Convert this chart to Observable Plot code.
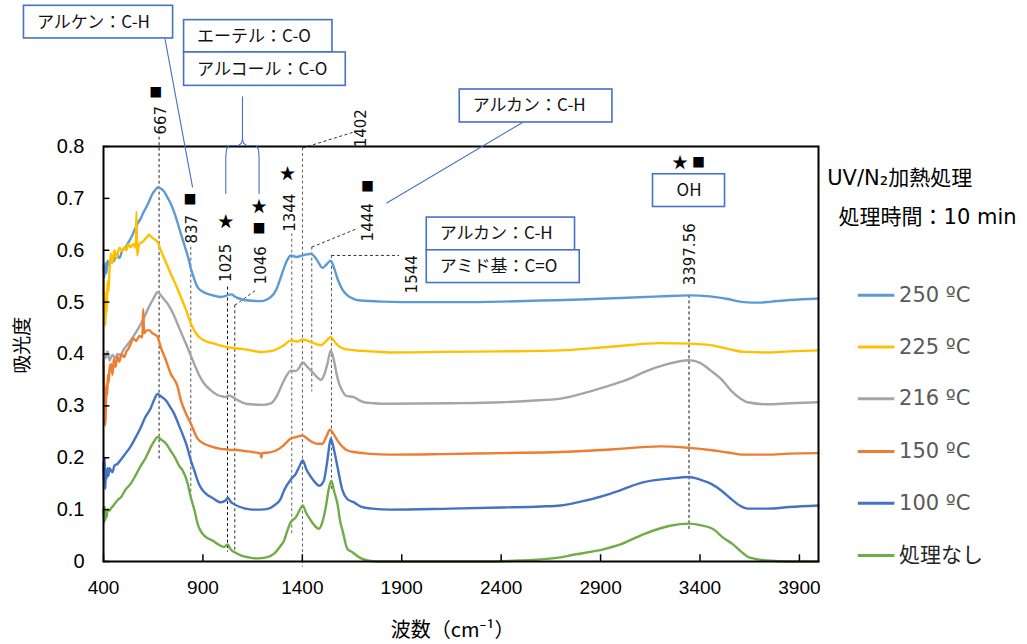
<!DOCTYPE html>
<html><head><meta charset="utf-8">
<script src="https://cdn.jsdelivr.net/npm/d3@7"></script>
<script src="https://cdn.jsdelivr.net/npm/@observablehq/plot@0.6"></script>
<style>html,body{margin:0;padding:0;background:#fff}#chart svg{display:block}</style>
</head><body><div id="chart"></div>
<script>
// ---------- data ----------
const seriesNames = ["250 ºC", "225 ºC", "216 ºC", "150 ºC", "100 ºC", "処理なし"];
const seriesColors = ["#5B9BD5", "#FFC000", "#A5A5A5", "#ED7D31", "#4472C4", "#70AD47"];

const spec250 = [[400,0.570],[405,0.548],[410,0.575],[415,0.556],[420,0.580],[430,0.570],[440,0.585],[450,0.578],[465,0.592],[480,0.585],[495,0.600],[510,0.605],[525,0.615],[540,0.625],[555,0.638],[570,0.650],[585,0.660],[600,0.672],[615,0.683],[630,0.695],[645,0.708],[660,0.716],[672,0.721],[688,0.719],[705,0.713],[720,0.703],[738,0.690],[760,0.668],[789,0.632],[815,0.600],[830,0.580],[839,0.565],[850,0.552],[873,0.529],[900,0.520],[940,0.514],[990,0.510],[1015,0.512],[1025,0.514],[1045,0.515],[1060,0.511],[1090,0.506],[1130,0.503],[1191,0.502],[1242,0.510],[1270,0.525],[1292,0.548],[1320,0.578],[1342,0.590],[1370,0.587],[1401,0.590],[1425,0.592],[1443,0.593],[1465,0.586],[1485,0.574],[1501,0.566],[1520,0.572],[1543,0.580],[1560,0.565],[1577,0.545],[1600,0.525],[1627,0.513],[1660,0.506],[1694,0.503],[1800,0.501],[2000,0.500],[2200,0.500],[2400,0.501],[2600,0.503],[2800,0.505],[3000,0.508],[3200,0.511],[3345,0.513],[3450,0.511],[3540,0.506],[3620,0.500],[3700,0.499],[3760,0.501],[3850,0.504],[3996,0.507]];

const spec225 = [[400,0.545],[403,0.470],[406,0.520],[409,0.455],[412,0.500],[416,0.480],[420,0.540],[425,0.520],[430,0.560],[437,0.594],[445,0.575],[455,0.600],[465,0.585],[480,0.605],[495,0.598],[504,0.606],[515,0.600],[525,0.612],[537,0.606],[550,0.612],[562,0.605],[566,0.674],[569,0.590],[580,0.612],[592,0.615],[604,0.619],[615,0.624],[629,0.630],[640,0.626],[646,0.624],[660,0.620],[672,0.616],[688,0.600],[710,0.580],[738,0.555],[765,0.532],[789,0.510],[815,0.485],[839,0.459],[865,0.440],[889,0.430],[920,0.424],[956,0.420],[990,0.416],[1024,0.413],[1060,0.411],[1090,0.410],[1140,0.407],[1191,0.404],[1230,0.405],[1258,0.407],[1285,0.412],[1308,0.417],[1342,0.426],[1376,0.424],[1402,0.428],[1443,0.423],[1470,0.419],[1493,0.417],[1520,0.425],[1543,0.433],[1560,0.425],[1577,0.417],[1610,0.410],[1644,0.408],[1750,0.405],[1845,0.403],[2100,0.404],[2400,0.405],[2700,0.407],[2950,0.414],[3202,0.421],[3345,0.420],[3450,0.417],[3540,0.410],[3621,0.404],[3739,0.403],[3850,0.405],[3996,0.407]];

const spec216 = [[400,0.400],[410,0.392],[420,0.405],[430,0.388],[445,0.398],[460,0.392],[470,0.400],[485,0.398],[500,0.408],[520,0.418],[537,0.426],[560,0.440],[588,0.458],[610,0.475],[629,0.491],[650,0.506],[672,0.519],[695,0.510],[722,0.497],[750,0.478],[772,0.458],[800,0.433],[822,0.413],[856,0.381],[880,0.360],[906,0.343],[940,0.330],[973,0.321],[1000,0.318],[1015,0.317],[1030,0.320],[1040,0.319],[1074,0.311],[1110,0.305],[1141,0.303],[1200,0.302],[1242,0.305],[1270,0.318],[1292,0.336],[1320,0.358],[1342,0.368],[1367,0.367],[1385,0.374],[1401,0.384],[1425,0.375],[1451,0.365],[1475,0.355],[1493,0.350],[1510,0.360],[1526,0.381],[1543,0.407],[1559,0.388],[1572,0.362],[1585,0.343],[1600,0.330],[1618,0.320],[1640,0.318],[1660,0.317],[1685,0.311],[1710,0.307],[1760,0.305],[1828,0.304],[2146,0.305],[2400,0.307],[2550,0.310],[2699,0.314],[2830,0.326],[2951,0.340],[3050,0.353],[3118,0.365],[3230,0.380],[3345,0.388],[3400,0.383],[3454,0.368],[3510,0.350],[3555,0.330],[3600,0.315],[3639,0.307],[3739,0.303],[3850,0.305],[3996,0.307]];

const spec150 = [[400,0.390],[403,0.330],[406,0.280],[409,0.262],[412,0.300],[415,0.340],[418,0.320],[422,0.360],[426,0.345],[430,0.370],[437,0.381],[445,0.360],[452,0.390],[460,0.375],[470,0.395],[480,0.385],[490,0.400],[504,0.394],[515,0.405],[525,0.410],[537,0.420],[550,0.430],[565,0.425],[580,0.435],[595,0.432],[600,0.487],[604,0.440],[615,0.445],[629,0.446],[646,0.440],[660,0.437],[672,0.433],[688,0.413],[710,0.392],[738,0.362],[772,0.338],[789,0.311],[815,0.285],[839,0.266],[873,0.237],[906,0.227],[940,0.222],[990,0.217],[1025,0.216],[1040,0.215],[1074,0.215],[1110,0.213],[1150,0.211],[1190,0.208],[1194,0.200],[1198,0.209],[1230,0.210],[1267,0.214],[1300,0.222],[1342,0.237],[1370,0.240],[1401,0.243],[1420,0.238],[1451,0.230],[1475,0.227],[1501,0.227],[1520,0.240],[1539,0.254],[1555,0.247],[1577,0.233],[1600,0.222],[1627,0.214],[1660,0.211],[1727,0.208],[1845,0.206],[2100,0.207],[2400,0.209],[2699,0.211],[2950,0.216],[3202,0.222],[3345,0.219],[3450,0.215],[3540,0.210],[3621,0.206],[3739,0.206],[3850,0.208],[3996,0.209]];

const spec100 = [[400,0.190],[403,0.150],[406,0.200],[409,0.140],[412,0.175],[416,0.160],[420,0.180],[425,0.165],[430,0.180],[437,0.176],[445,0.172],[455,0.185],[470,0.188],[485,0.195],[504,0.205],[520,0.213],[537,0.222],[560,0.238],[588,0.259],[610,0.278],[637,0.295],[655,0.312],[672,0.323],[690,0.318],[713,0.311],[740,0.295],[755,0.285],[780,0.262],[797,0.246],[820,0.222],[839,0.195],[860,0.172],[873,0.156],[890,0.142],[915,0.131],[950,0.122],[990,0.114],[1015,0.118],[1025,0.123],[1040,0.115],[1050,0.112],[1080,0.106],[1115,0.102],[1150,0.100],[1191,0.100],[1230,0.102],[1258,0.108],[1290,0.120],[1308,0.137],[1342,0.158],[1367,0.169],[1385,0.183],[1402,0.195],[1420,0.178],[1443,0.163],[1470,0.150],[1484,0.146],[1500,0.150],[1510,0.158],[1526,0.195],[1543,0.237],[1560,0.214],[1577,0.182],[1602,0.137],[1627,0.120],[1660,0.114],[1694,0.106],[1750,0.102],[1845,0.100],[2146,0.102],[2400,0.104],[2600,0.106],[2699,0.108],[2830,0.118],[2951,0.131],[3118,0.153],[3250,0.160],[3345,0.163],[3400,0.158],[3454,0.150],[3510,0.136],[3555,0.121],[3600,0.108],[3639,0.102],[3739,0.102],[3850,0.105],[3996,0.108]];

const spec0 = [[400,0.100],[403,0.075],[406,0.105],[409,0.080],[412,0.095],[416,0.085],[420,0.100],[430,0.098],[437,0.102],[450,0.108],[470,0.118],[490,0.125],[510,0.138],[537,0.150],[560,0.165],[588,0.185],[610,0.198],[637,0.220],[655,0.232],[672,0.240],[690,0.235],[713,0.228],[740,0.212],[760,0.200],[780,0.185],[797,0.176],[820,0.155],[839,0.124],[860,0.095],[873,0.073],[890,0.058],[915,0.047],[950,0.040],[973,0.034],[1006,0.028],[1020,0.032],[1025,0.033],[1040,0.023],[1060,0.018],[1090,0.012],[1130,0.008],[1174,0.006],[1220,0.008],[1258,0.015],[1290,0.030],[1308,0.040],[1325,0.060],[1342,0.076],[1367,0.085],[1385,0.098],[1402,0.108],[1420,0.093],[1443,0.079],[1470,0.066],[1484,0.063],[1500,0.075],[1518,0.105],[1533,0.140],[1546,0.156],[1560,0.135],[1577,0.111],[1590,0.078],[1602,0.060],[1627,0.024],[1652,0.018],[1686,0.008],[1728,0.002],[1780,0.000],[2000,0.000],[2300,0.000],[2500,0.002],[2699,0.008],[2750,0.012],[2918,0.024],[3000,0.033],[3118,0.053],[3250,0.069],[3345,0.073],[3400,0.070],[3463,0.063],[3520,0.045],[3563,0.034],[3620,0.015],[3646,0.008],[3739,0.002],[3850,0.000],[3996,0.000]];

const spectra = [spec250, spec225, spec216, spec150, spec100, spec0];

const xTicks = [400, 900, 1400, 1900, 2400, 2900, 3400, 3900];
const yTicks = [0, 0.1, 0.2, 0.3, 0.4, 0.5, 0.6, 0.7, 0.8];
const xTitle = "波数（cm⁻¹）";
const yTitle = "吸光度";
const titleLines = ["UV/N₂加熱処理", "処理時間：10 min"];
const peakLabels = ["667", "837", "1025", "1046", "1344", "1402", "1444", "1544", "3397.56"];
const groupLabels = ["アルケン：C-H", "エーテル：C-O", "アルコール：C-O", "アルカン：C-H", "アルカン：C-H", "アミド基：C=O"];
const ohLabel = "OH";

// ---------- annotation layout (data units) ----------
const peakLineLayout = [
  {x: 679.6, y1: 0.818, y2: 0.195, c: "#222"},
  {x: 839.0, y1: 0.606, y2: 0.127, c: "#555"},
  {x: 1023.6, y1: 0.529, y2: 0.018, c: "#111"},
  {x: 1060.3, y1: 0.494, y2: 0.018, c: "#333"},
  {x: 1346.9, y1: 0.632, y2: 0.053, c: "#666"},
  {x: 1400.7, y1: 0.797, y2: -0.011, c: "#666"},
  {x: 1447.5, y1: 0.606, y2: 0.327, c: "#555"},
  {x: 1546.5, y1: 0.590, y2: 0.134, c: "#555"},
  {x: 3344.8, y1: 0.513, y2: 0.057, c: "#111"}
];
const peakLeaderLayout = [
  {x1: 1060.3, y1: 0.494, x2: 1165.9, y2: 0.523},
  {x1: 1400.7, y1: 0.797, x2: 1660.2, y2: 0.828},
  {x1: 1447.5, y1: 0.606, x2: 1677.3, y2: 0.642},
  {x1: 1546.5, y1: 0.590, x2: 1886.5, y2: 0.590}
];
const peakLabelLayout = [
  {x: 688.1, y: 0.8507}, {x: 844.0, y: 0.6404}, {x: 1019.0, y: 0.5758},
  {x: 1191.0, y: 0.5710}, {x: 1336.9, y: 0.6723}, {x: 1696.4, y: 0.8353},
  {x: 1731.6, y: 0.6539}, {x: 1950.4, y: 0.5536}, {x: 3348.3, y: 0.5922}
];
const squareLayout = [
  {x: 663.0, y: 0.9028}, {x: 835.5, y: 0.6964}, {x: 1182.5, y: 0.6404},
  {x: 1727.6, y: 0.7220}, {x: 3392.1, y: 0.7683}
];
const starLayout = [
  {x: 1015.0, y: 0.6545}, {x: 1182.5, y: 0.6835}, {x: 1325.3, y: 0.7479}, {x: 3299.5, y: 0.7683}
];
const boxLayout = [
  {x1: 0, x2: 750, y1: 1.0083, y2: 1.0712},
  {x1: 805.3, x2: 1551.6, y1: 0.9813, y2: 1.0436},
  {x1: 805.3, x2: 1618.4, y1: 0.9169, y2: 0.9813},
  {x1: 2191.7, x2: 2959.6, y1: 0.8463, y2: 0.9099},
  {x1: 2025.8, x2: 2771.5, y1: 0.5999, y2: 0.6630},
  {x1: 2025.8, x2: 2795.2, y1: 0.5368, y2: 0.5999}
];
const ohBox = {x1: 3163.8, x2: 3525.9, y1: 0.6834, y2: 0.7465};
const connectorLayout = [
  {id: "alkene", x: 709.8, y: 1.0064}, {id: "alkene", x: 847.6, y: 0.7220},
  {id: "alkane", x: 2507.0, y: 0.8463}, {id: "alkane", x: 1824.6, y: 0.6912},
  {id: "braceL", x: 1015.0, y: 0.7093}, {id: "braceL", x: 1015.0, y: 0.7800}, {id: "braceL", x: 1019.0, y: 0.7950},
  {id: "braceL", x: 1032.0, y: 0.8020}, {id: "braceL", x: 1080.0, y: 0.8025}, {id: "braceL", x: 1094.0, y: 0.8065},
  {id: "braceL", x: 1099.0, y: 0.8140}, {id: "braceL", x: 1099.0, y: 0.8957},
  {id: "braceR", x: 1099.0, y: 0.8140}, {id: "braceR", x: 1104.0, y: 0.8065}, {id: "braceR", x: 1118.0, y: 0.8025},
  {id: "braceR", x: 1166.0, y: 0.8020}, {id: "braceR", x: 1179.0, y: 0.7950}, {id: "braceR", x: 1182.5, y: 0.7800},
  {id: "braceR", x: 1182.5, y: 0.7093}
];
const legendLayout = {x1: 4196, x2: 4380, xt: 4401, ys: [0.5131, 0.4135, 0.3139, 0.2122, 0.1125, 0.0116]};
const titleLayout = [{x: 4040, y: 0.7388}, {x: 4097, y: 0.6642}];
const yTitleLayout = {x: -7, y: 0.4167};
const xTitleLayout = {x: 2156, y: -0.1331};

// ---------- build ----------
const CJK = "'Noto Sans CJK JP', 'Noto Sans', sans-serif";
const VERD = "'DejaVu Sans', 'Noto Sans CJK JP', sans-serif";
const ARIAL = "'Liberation Sans', Arial, sans-serif";
const blue = "#4472C4";

const lineMarks = spectra.map((s, i) =>
  Plot.line(s, {x: d => d[0], y: d => d[1], stroke: seriesColors[i], strokeWidth: 2.4, curve: "monotone-x", strokeLinejoin: "round"})
);

const legendRows = seriesNames.map((n, i) => ({name: n, color: seriesColors[i], y: legendLayout.ys[i]}));

const chart = Plot.plot({
  width: 1027, height: 644,
  marginLeft: 103, marginRight: 209, marginTop: 146, marginBottom: 83,
  x: {domain: [400, 3996]},
  y: {domain: [0, 0.8]},
  style: {background: "#fff", fontFamily: ARIAL, overflow: "visible"},
  marks: [
    // dashed peak lines
    Plot.ruleX(peakLineLayout, {x: "x", y1: "y1", y2: "y2", stroke: "c", strokeWidth: 1, strokeDasharray: "3,2.5"}),
    Plot.link(peakLeaderLayout, {x1: "x1", y1: "y1", x2: "x2", y2: "y2", stroke: "#333", strokeWidth: 1, strokeDasharray: "3,2.5"}),
    // spectra
    ...lineMarks,
    // frame & ticks
    Plot.frame({stroke: "#000", strokeWidth: 2}),
    Plot.ruleX(xTicks, {x: d => d, y1: 0, y2: 0.013, stroke: "#000", strokeWidth: 1.5}),
    Plot.ruleY(yTicks, {y: d => d, x1: 400, x2: 432, stroke: "#000", strokeWidth: 1.5}),
    Plot.axisX(xTicks, {tickSize: 0, tickPadding: 19, fontSize: 19, fontFamily: ARIAL, fill: "#000", label: null, tickFormat: d => String(d)}),
    Plot.axisY(yTicks, {tickSize: 0, tickPadding: 19, fontSize: 20, fontFamily: ARIAL, fill: "#000", label: null, tickFormat: d => d === 0 ? "0" : d.toFixed(1)}),
    // axis titles
    Plot.text([yTitle], {x: () => yTitleLayout.x, y: () => yTitleLayout.y, text: d => d, rotate: -90, fontSize: 19, fontFamily: CJK, fill: "#000"}),
    Plot.text([xTitle], {x: () => xTitleLayout.x, y: () => xTitleLayout.y, text: d => d, fontSize: 20, fontFamily: CJK, fill: "#000"}),
    // connectors / brace
    Plot.line(connectorLayout, {x: "x", y: "y", z: "id", stroke: blue, strokeWidth: 1.1, curve: "linear"}),
    // group boxes
    Plot.rect(boxLayout, {x1: "x1", x2: "x2", y1: "y1", y2: "y2", fill: "#fff", stroke: blue, strokeWidth: 1.6}),
    Plot.text(boxLayout, {x: "x1", y: d => (d.y1 + d.y2) / 2, text: (d, i) => groupLabels[i], textAnchor: "start", dx: 13, fontSize: 17, fontFamily: CJK, fill: "#111"}),
    Plot.rect([ohBox], {x1: "x1", x2: "x2", y1: "y1", y2: "y2", fill: "#fff", stroke: blue, strokeWidth: 1.6}),
    Plot.text([ohBox], {x: d => (d.x1 + d.x2) / 2, y: d => (d.y1 + d.y2) / 2, text: () => ohLabel, fontSize: 17, fontFamily: CJK, fill: "#111"}),
    // peak labels & markers
    Plot.text(peakLabelLayout, {x: "x", y: "y", text: (d, i) => peakLabels[i], rotate: -90, fontSize: 15, fontFamily: VERD, fill: "#111"}),
    Plot.text(squareLayout, {x: "x", y: "y", text: () => "■", fontSize: 13, fontFamily: CJK, fill: "#000"}),
    Plot.text(starLayout, {x: "x", y: "y", text: () => "★", fontSize: 16, fontFamily: CJK, fill: "#000"}),
    // right titles
    Plot.text(titleLayout, {x: "x", y: "y", text: (d, i) => titleLines[i], textAnchor: "start", fontSize: 21, fontFamily: VERD, fill: "#000"}),
    // legend
    Plot.ruleY(legendRows, {y: "y", x1: () => legendLayout.x1, x2: () => legendLayout.x2, stroke: "color", strokeWidth: 3}),
    Plot.text(legendRows.slice(0, 5), {x: () => legendLayout.xt, y: "y", text: "name", textAnchor: "start", fontSize: 21, fontFamily: VERD, fill: "#595959"}),
    Plot.text(legendRows.slice(5), {x: () => legendLayout.xt, y: "y", text: "name", textAnchor: "start", fontSize: 21, fontFamily: CJK, fill: "#262626"})
  ]
});
document.getElementById("chart").appendChild(chart);
</script></body></html>
